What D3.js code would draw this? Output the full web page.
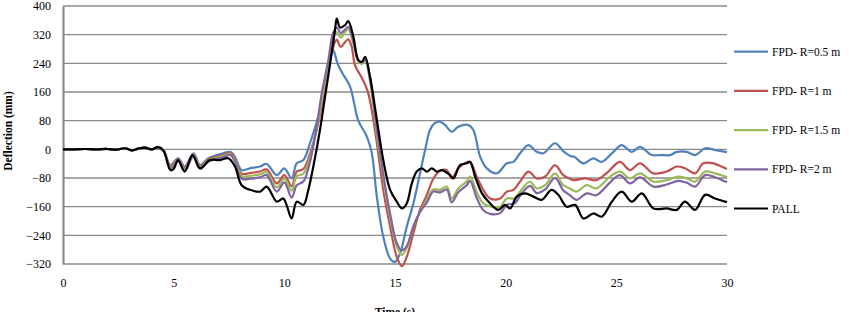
<!DOCTYPE html>
<html><head><meta charset="utf-8">
<script src="https://cdn.jsdelivr.net/npm/d3@7"></script>
<style>body{margin:0;background:#fff}svg{display:block}svg text{font-family:"Liberation Serif","DejaVu Serif",serif !important}</style>
</head><body><svg id="c" width="849" height="312"></svg>
<script>
const yTicks = [-320,-240,-160,-80,0,80,160,240,320,400];
const xTicks = [0,5,10,15,20,25,30];
const seriesNames = ["FPD- R=0.5 m","FPD- R=1 m","FPD- R=1.5 m","FPD- R=2 m","PALL"];
const seriesColors = ["#4F81BD","#C0504D","#9BBB59","#8064A2","#000000"];

const early = [[0,0],[0.5,0],[1,1],[1.5,0],[2,1],[2.4,-1],[2.8,3],[3.1,-3],[3.4,2],[3.7,5],[4.0,0],[4.3,6]];

const fpd05 = early.concat([[4.55,-3],[4.85,-44],[5.2,-25],[5.5,-48],[5.9,-11],[6.19,-44],[6.57,-25],[6.95,-16],[7.24,-11],[7.55,-7],[7.77,-21],[8.07,-58],[8.45,-53],[8.9,-48],[9.2,-41],[9.66,-72],[10.0,-53],[10.33,-81],[10.56,-39],[10.86,-30],[11.16,17],[11.61,110],[11.99,230],[12.2,278],[12.4,240],[12.6,215],[12.97,175],[13.15,130],[13.34,80],[13.72,37],[13.95,-10],[14.18,-132],[14.47,-244],[14.78,-305],[15.0,-314],[15.23,-290],[15.53,-216],[15.83,-151],[16.13,-67],[16.36,-2],[16.58,54],[16.79,73],[17.04,77],[17.26,68],[17.56,49],[17.86,63],[18.31,68],[18.54,54],[18.85,-21],[19.15,-53],[19.6,-67],[20.05,-39],[20.35,-35],[20.65,-11],[21.03,12],[21.4,-7],[21.7,-11],[22.23,17],[22.6,-5],[22.9,-18],[23.1,-21],[23.51,-39],[23.96,-25],[24.34,-35],[24.87,-7],[25.24,12],[25.7,-7],[26.07,7],[26.6,-16],[26.98,-16],[27.43,-16],[27.73,-7],[28.18,-7],[28.56,-16],[29.01,3],[29.46,-2],[29.92,-7],[30,-8]]);

const fpd1 = early.concat([[4.55,-3],[4.85,-48],[5.2,-28],[5.5,-52],[5.9,-14],[6.19,-48],[6.57,-28],[6.95,-20],[7.24,-16],[7.55,-10],[7.77,-26],[8.07,-68],[8.45,-66],[8.9,-62],[9.2,-56],[9.66,-95],[10.0,-72],[10.33,-103],[10.56,-62],[10.86,-55],[11.16,-12],[11.46,54],[11.77,147],[12.07,249],[12.29,300],[12.37,306],[12.55,286],[12.75,300],[12.89,307],[13.05,285],[13.19,235],[13.5,200],[13.75,165],[13.92,120],[14.18,17],[14.47,-113],[14.78,-216],[15.08,-300],[15.31,-326],[15.53,-300],[15.83,-234],[16.13,-169],[16.44,-127],[16.73,-82],[17.04,-60],[17.34,-58],[17.56,-81],[17.86,-53],[18.16,-39],[18.39,-35],[18.69,-76],[18.99,-113],[19.3,-137],[19.75,-137],[20.05,-118],[20.35,-113],[20.65,-90],[21.03,-62],[21.4,-81],[21.78,-76],[22.23,-44],[22.6,-72],[22.9,-82],[23.06,-86],[23.6,-81],[24.1,-86],[24.64,-62],[25.16,-35],[25.62,-58],[26.07,-39],[26.68,-67],[27.28,-62],[27.73,-48],[28.1,-53],[28.56,-67],[28.93,-39],[29.39,-39],[29.92,-53],[30,-55]]);

const fpd15 = early.concat([[4.55,-4],[4.85,-51],[5.2,-30],[5.5,-55],[5.9,-16],[6.19,-51],[6.57,-31],[6.95,-23],[7.24,-19],[7.55,-13],[7.77,-30],[8.07,-75],[8.45,-74],[8.9,-70],[9.2,-64],[9.66,-106],[10.0,-82],[10.33,-115],[10.56,-75],[10.86,-68],[11.16,-22],[11.46,58],[11.74,152],[12.04,255],[12.26,318],[12.37,327],[12.55,312],[12.75,328],[12.89,335],[13.12,295],[13.34,245],[13.5,238],[13.65,248],[13.87,190],[14.18,40],[14.47,-80],[14.78,-190],[15.08,-270],[15.31,-295],[15.53,-275],[15.83,-215],[16.13,-175],[16.44,-140],[16.73,-112],[17.04,-113],[17.34,-104],[17.56,-137],[17.86,-109],[18.24,-90],[18.39,-76],[18.69,-118],[18.99,-151],[19.37,-160],[19.75,-160],[20.05,-137],[20.43,-137],[20.65,-118],[21.1,-90],[21.4,-109],[21.78,-100],[22.23,-67],[22.6,-100],[22.9,-109],[23.2,-118],[23.66,-100],[24.1,-109],[24.72,-76],[25.16,-62],[25.62,-81],[26.07,-67],[26.68,-90],[27.28,-86],[27.8,-76],[28.18,-81],[28.56,-90],[29.01,-62],[29.46,-67],[29.92,-76],[30,-78]]);

const fpd2 = early.concat([[4.55,-5],[4.85,-54],[5.2,-33],[5.5,-58],[5.9,-19],[6.19,-54],[6.57,-34],[6.95,-26],[7.24,-22],[7.55,-16],[7.77,-34],[8.07,-82],[8.45,-82],[8.9,-78],[9.2,-72],[9.66,-118],[10.0,-92],[10.33,-135],[10.56,-100],[10.86,-90],[11.16,-35],[11.46,63],[11.69,156],[11.99,249],[12.2,324],[12.37,340],[12.55,325],[12.75,335],[12.89,342],[13.12,300],[13.34,250],[13.5,242],[13.65,252],[13.87,200],[14.18,55],[14.47,-70],[14.78,-180],[15.08,-262],[15.31,-282],[15.53,-270],[15.83,-215],[16.13,-175],[16.44,-148],[16.73,-118],[17.04,-120],[17.34,-112],[17.56,-148],[17.86,-120],[18.24,-100],[18.39,-88],[18.69,-135],[18.99,-170],[19.3,-180],[19.75,-178],[20.05,-155],[20.43,-150],[20.65,-130],[21.1,-102],[21.4,-122],[21.78,-112],[22.23,-80],[22.6,-114],[22.9,-128],[23.2,-141],[23.66,-123],[24.1,-128],[24.72,-92],[25.16,-72],[25.62,-95],[26.07,-78],[26.68,-104],[27.28,-98],[27.8,-88],[28.18,-93],[28.56,-104],[29.01,-72],[29.46,-78],[29.92,-90],[30,-92]]);

const pall = early.concat([[4.55,-5],[4.85,-58],[5.0,-55],[5.2,-30],[5.5,-62],[5.85,-16],[6.19,-53],[6.64,-30],[7.09,-30],[7.47,-25],[7.77,-48],[8.07,-100],[8.45,-113],[8.9,-118],[9.2,-104],[9.66,-146],[9.95,-137],[10.1,-155],[10.33,-193],[10.56,-146],[10.86,-155],[11.08,-114],[11.31,-48],[11.61,54],[11.84,147],[12.07,240],[12.29,333],[12.37,365],[12.52,340],[12.75,347],[12.89,358],[13.12,314],[13.34,249],[13.5,244],[13.65,258],[13.87,203],[14.18,82],[14.47,-30],[14.78,-113],[15.08,-146],[15.31,-165],[15.53,-151],[15.76,-95],[15.98,-62],[16.21,-53],[16.44,-62],[16.66,-53],[16.89,-62],[17.11,-58],[17.49,-72],[17.64,-81],[17.94,-44],[18.24,-39],[18.39,-35],[18.62,-76],[18.93,-123],[19.3,-151],[19.67,-169],[19.97,-155],[20.2,-165],[20.5,-132],[20.88,-123],[21.25,-132],[21.63,-141],[22.07,-113],[22.38,-127],[22.76,-160],[23.14,-155],[23.51,-193],[23.96,-179],[24.34,-188],[24.8,-146],[25.24,-118],[25.7,-146],[26.15,-123],[26.68,-165],[27.28,-165],[27.73,-169],[28.1,-146],[28.56,-169],[29.01,-127],[29.46,-137],[29.92,-146],[30,-148]]);

const allSeries = [fpd05, fpd1, fpd15, fpd2, pall];

const svg = d3.select("#c");
const L=63, R=727, T=6, B=264;
const x = d3.scaleLinear().domain([0,30]).range([L,R]);
const y = d3.scaleLinear().domain([-320,400]).range([B,T]);

// gridlines
svg.append("g").selectAll("line").data(yTicks).join("line")
  .attr("x1",L).attr("x2",R).attr("y1",d=>y(d)).attr("y2",d=>y(d))
  .attr("stroke","#8a8a8a").attr("stroke-width",1.3);

// left axis
const ya = svg.append("g").attr("transform",`translate(${L},0)`)
  .call(d3.axisLeft(y).tickValues(yTicks).tickSize(0).tickPadding(12).tickFormat(d3.format("d")));
ya.select(".domain").attr("stroke","#8a8a8a").attr("stroke-width",2.2);
ya.selectAll("text").attr("font-size",12).attr("fill","#000");

// bottom axis labels
const xa = svg.append("g").attr("transform",`translate(0,${B})`)
  .call(d3.axisBottom(x).tickValues(xTicks).tickSize(0).tickPadding(14));
xa.select(".domain").remove();
xa.selectAll("text").attr("font-size",12).attr("fill","#000");

// axis titles
svg.append("text").attr("transform","translate(12,131) rotate(-90)")
  .attr("text-anchor","middle").attr("font-size",11.5).attr("font-weight","bold").text("Deflection (mm)");
svg.append("text").attr("x",395).attr("y",316).attr("text-anchor","middle")
  .attr("font-size",11.5).attr("font-weight","bold").text("Time (s)");

// lines
const line = d3.line().x(d=>x(d[0])).y(d=>y(d[1])).curve(d3.curveCatmullRom.alpha(0.5));
svg.append("g").selectAll("path").data(allSeries).join("path")
  .attr("d",line).attr("fill","none")
  .attr("stroke",(d,i)=>seriesColors[i]).attr("stroke-width",2.2)
  .attr("stroke-linejoin","round");

// legend
const lg = svg.append("g").selectAll("g").data(seriesNames).join("g")
  .attr("transform",(d,i)=>`translate(734,${51.7+i*39.2})`);
lg.append("line").attr("x1",0).attr("x2",34).attr("stroke",(d,i)=>seriesColors[i]).attr("stroke-width",2.2);
lg.append("text").attr("x",38).attr("y",4).attr("font-size",11.5).text(d=>d);
</script></body></html>
